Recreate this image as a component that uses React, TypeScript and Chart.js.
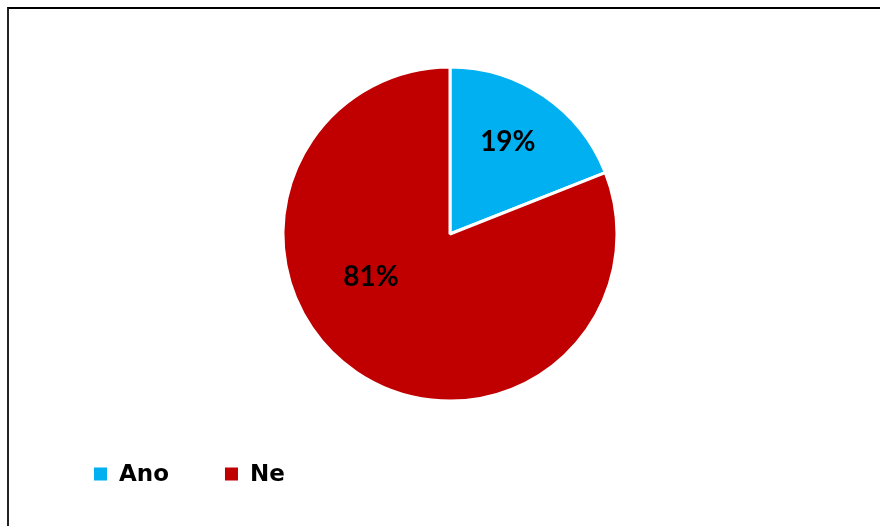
import React, { useEffect, useRef } from "react";
import { Chart, registerables } from "chart.js";

Chart.register(...registerables);

const categories = ["Ano", "Ne"];
const values = [19, 81];
const valueLabels = ["19%", "81%"];
const colors = ["#00B0F0", "#C00000"];

// label placement relative to each slice (style, not data)
const labelPlacement = [
  { angleShift: -2, radius: 0.65 },
  { angleShift: 27, radius: 0.54 },
];

const sliceLabels = {
  id: "sliceLabels",
  afterDatasetsDraw(chart: any) {
    const ctx = chart.ctx;
    const meta = chart.getDatasetMeta(0);
    ctx.save();
    ctx.font = "bold 28px Lato";
    ctx.fillStyle = "#000";
    ctx.textAlign = "center";
    ctx.textBaseline = "middle";
    meta.data.forEach((arc: any, i: number) => {
      const p = arc.getProps(["x", "y", "startAngle", "endAngle", "outerRadius"], true);
      const mid = (p.startAngle + p.endAngle) / 2 + (labelPlacement[i].angleShift * Math.PI) / 180;
      const r = p.outerRadius * labelPlacement[i].radius;
      ctx.fillText(valueLabels[i], p.x + Math.cos(mid) * r, p.y + Math.sin(mid) * r);
    });
    ctx.restore();
  },
};

const customLegend = {
  id: "customLegend",
  afterDraw(chart: any) {
    const ctx = chart.ctx;
    ctx.save();
    ctx.font = "bold 23px 'DejaVu Sans'";
    ctx.textBaseline = "middle";
    ctx.textAlign = "left";
    let x = 94;
    const y = 474;
    const box = 13;
    categories.forEach((c, i) => {
      ctx.fillStyle = colors[i];
      ctx.fillRect(x, y - box / 2, box, box);
      ctx.fillStyle = "#000";
      const tx = x + box + 12;
      ctx.fillText(c, tx, y + 1);
      x = tx + ctx.measureText(c).width + 56;
    });
    ctx.restore();
  },
};

export default function App() {
  const ref = useRef<HTMLCanvasElement>(null);
  useEffect(() => {
    document.body.style.margin = "0";
    const chart = new Chart(ref.current!, {
      type: "pie",
      data: {
        labels: categories,
        datasets: [
          {
            data: values,
            backgroundColor: colors,
            borderColor: "#ffffff",
            borderWidth: 3,
            radius: 167,
            hoverOffset: 0,
          } as any,
        ],
      },
      options: {
        responsive: false,
        animation: false,
        layout: { padding: { left: 283, right: 263, top: 67, bottom: 125 } },
        plugins: {
          legend: { display: false },
          tooltip: { enabled: false },
        },
      },
      plugins: [sliceLabels, customLegend],
    });
    return () => chart.destroy();
  }, []);
  return (
    <div style={{ position: "relative", width: 880, height: 526, background: "#fff", overflow: "hidden" }}>
      <canvas ref={ref} width={880} height={526} style={{ position: "absolute", left: 0, top: 0 }} />
      <div
        style={{
          position: "absolute",
          left: 7,
          top: 7,
          width: 900,
          height: 540,
          borderTop: "2px solid #000",
          borderLeft: "2px solid #222",
          pointerEvents: "none",
        }}
      />
    </div>
  );
}
